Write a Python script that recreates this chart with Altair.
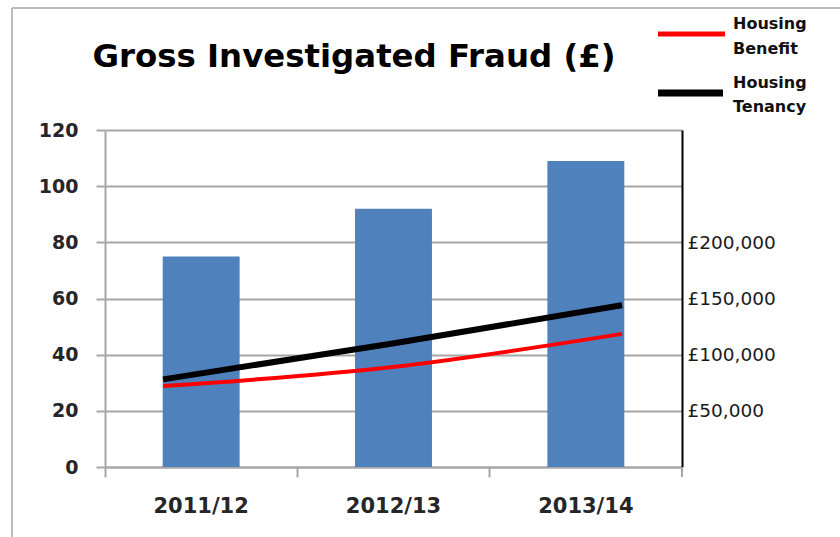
import altair as alt
import pandas as pd

years = ["2011/12", "2012/13", "2013/14"]
fraud_counts = [75, 92, 109]
housing_benefit = [72000, 89000, 118500]
housing_tenancy = [78000, 110000, 144000]
series_names = ["Housing Benefit", "Housing Tenancy"]
series_colors = ["#ff0000", "#000000"]
series_widths = [4, 6]
left_ticks = [0, 20, 40, 60, 80, 100, 120]
right_ticks = [50000, 100000, 150000, 200000]
title_text = "Gross Investigated Fraud (£)"

FONT = "DejaVu Sans"
W, H = 577, 337
GREY = "#a6a6a6"

bars_df = pd.DataFrame({"year": years, "count": fraud_counts})
lines_df = pd.DataFrame({
    "idx": list(range(len(years))) * 2,
    "year": years * 2,
    "series": [series_names[0]] * len(years) + [series_names[1]] * len(years),
    "value": housing_benefit + housing_tenancy,
})

bars = alt.Chart(bars_df).mark_bar(color="#4f81bd", width=alt.RelativeBandSize(0.4)).encode(
    x=alt.X("year:N", sort=years,
            scale=alt.Scale(paddingInner=0, paddingOuter=0),
            axis=alt.Axis(title=None, bandPosition=0, labelAngle=0,
                          tickSize=10, tickColor=GREY, tickWidth=2,
                          domainColor=GREY, domainWidth=2, grid=False,
                          labelFont=FONT, labelFontSize=21, labelFontWeight="bold",
                          labelColor="#262626", labelPadding=18)),
    y=alt.Y("count:Q", scale=alt.Scale(domain=[0, 120], nice=False),
            axis=alt.Axis(title=None, values=left_ticks, tickSize=9, tickColor=GREY, tickWidth=2,
                          domainColor=GREY, domainWidth=2, grid=True, gridColor=GREY,
                          gridWidth=2, labelFont=FONT, labelFontSize=19, labelFontWeight="bold",
                          labelColor="#262626", labelPadding=18)),
)

lines = alt.Chart(lines_df).mark_line(interpolate="monotone").encode(
    x=alt.X("idx:Q", scale=alt.Scale(domain=[-0.253, 2.261], nice=False, zero=False), axis=None),
    y=alt.Y("value:Q", scale=alt.Scale(domain=[0, 300000], nice=False),
            axis=alt.Axis(orient="right", title=None, values=right_ticks, ticks=False, grid=False,
                          domainColor="#000000", domainWidth=2,
                          labelExpr="'£' + format(datum.value, ',')",
                          labelFont=FONT, labelFontSize=18.5, labelColor="#1a1a1a",
                          labelPadding=5)),
    color=alt.Color("series:N", scale=alt.Scale(domain=series_names, range=series_colors), legend=None),
    strokeWidth=alt.StrokeWidth("series:N", scale=alt.Scale(domain=series_names, range=series_widths), legend=None),
    detail="series:N",
)

dummy = alt.Data(values=[{"k": 1}])

end_tick = alt.Chart(dummy).mark_rule(color=GREY, strokeWidth=2).encode(
    x=alt.value(W), y=alt.value(H), y2=alt.value(H + 10))

frame_left = alt.Chart(dummy).mark_rule(color="#bbbbbb", strokeWidth=2).encode(
    x=alt.value(-93), y=alt.value(-122), y2=alt.value(H + 80))
frame_top = alt.Chart(dummy).mark_rule(color="#bbbbbb", strokeWidth=2).encode(
    x=alt.value(-93), x2=alt.value(W + 200), y=alt.value(-122))

title = alt.Chart(dummy).mark_text(font=FONT, fontSize=32.4, fontWeight="bold", color="#000000",
                                   align="center", baseline="alphabetic").encode(
    x=alt.value(249), y=alt.value(-63), text=alt.value(title_text))

leg_red = alt.Chart(dummy).mark_rule(color=series_colors[0], strokeWidth=series_widths[0] + 1).encode(
    x=alt.value(553), x2=alt.value(620), y=alt.value(-96))
leg_black = alt.Chart(dummy).mark_rule(color=series_colors[1], strokeWidth=series_widths[1] + 1).encode(
    x=alt.value(553), x2=alt.value(618), y=alt.value(-37))
leg_t1 = alt.Chart(dummy).mark_text(font=FONT, fontSize=16, fontWeight="bold", color="#111111",
                                    align="left", baseline="alphabetic", lineBreak="\n",
                                    lineHeight=25).encode(
    x=alt.value(628), y=alt.value(-101), text=alt.value(series_names[0].replace(" ", "\n")))
leg_t2 = alt.Chart(dummy).mark_text(font=FONT, fontSize=16, fontWeight="bold", color="#111111",
                                    align="left", baseline="alphabetic", lineBreak="\n",
                                    lineHeight=24).encode(
    x=alt.value(628), y=alt.value(-42), text=alt.value(series_names[1].replace(" ", "\n")))

chart = alt.layer(bars, lines, end_tick, frame_left, frame_top, title,
                  leg_red, leg_black, leg_t1, leg_t2).resolve_scale(
    x="independent", y="independent"
).properties(
    width=W, height=H,
    autosize=alt.AutoSizeParams(type="none"),
    padding={"left": 105, "top": 130, "right": 840 - 105 - W, "bottom": 537 - 130 - H},
    background="#ffffff",
).configure_view(stroke=None)

chart.save("out.html", embed_options={"renderer": "svg", "actions": False})
